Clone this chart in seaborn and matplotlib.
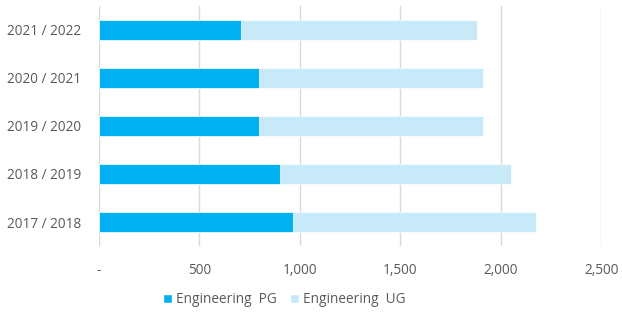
import matplotlib
matplotlib.use("Agg")
import matplotlib.pyplot as plt
import seaborn as sns
import pandas as pd
from matplotlib.ticker import FuncFormatter
from matplotlib.patches import Patch

# Données
years = ["2021 / 2022", "2020 / 2021", "2019 / 2020", "2018 / 2019", "2017 / 2018"]
eng_pg = [707, 797, 797, 900, 965]
eng_ug = [1175, 1113, 1113, 1151, 1210]
xticks = [0, 500, 1000, 1500, 2000, 2500]

PG_COLOR = "#00B0F0"
UG_COLOR = "#C7E9F8"
TEXT_COLOR = "#595959"
GRID_COLOR = "#D9D9D9"

sns.set_theme(style="white")
plt.rcParams["font.family"] = ["Open Sans", "DejaVu Sans"]

df = pd.DataFrame({"year": years, "pg": eng_pg, "ug": eng_ug})
df["total"] = df["pg"] + df["ug"]

fig = plt.figure(figsize=(6.22, 3.13), dpi=100)
ax = fig.add_axes([0.159, 0.214, 0.808, 0.767])

# UG empilé : on trace le total puis PG par-dessus
sns.barplot(data=df, y="year", x="total", color=UG_COLOR, orient="h",
            width=0.4, ax=ax, saturation=1, edgecolor="white", linewidth=0.5)
sns.barplot(data=df, y="year", x="pg", color=PG_COLOR, orient="h",
            width=0.4, ax=ax, saturation=1, edgecolor="white", linewidth=0.5)

ax.set_xlim(0, 2500)
ax.set_xticks(xticks)
ax.xaxis.set_major_formatter(FuncFormatter(lambda v, p: "-" if v == 0 else f"{int(v):,}"))
ax.grid(axis="x", color=GRID_COLOR, linewidth=1)
ax.set_axisbelow(True)
for s in ax.spines.values():
    s.set_visible(False)
ax.set_xlabel("")
ax.set_ylabel("")
ax.tick_params(axis="x", length=0, pad=12, labelsize=9.8, labelcolor=TEXT_COLOR)
ax.tick_params(axis="y", length=0, pad=13, labelsize=9.8, labelcolor=TEXT_COLOR)

handles = [Patch(facecolor=PG_COLOR, label="Engineering  PG"),
           Patch(facecolor=UG_COLOR, label="Engineering  UG")]
fig.legend(handles=handles, loc="center", bbox_to_anchor=(0.457, 0.042), ncol=2,
           frameon=False, fontsize=9.8, labelcolor=TEXT_COLOR, handlelength=0.65,
           handleheight=0.65, handletextpad=0.3, columnspacing=1.0)

fig.savefig("out.png", dpi=100)
